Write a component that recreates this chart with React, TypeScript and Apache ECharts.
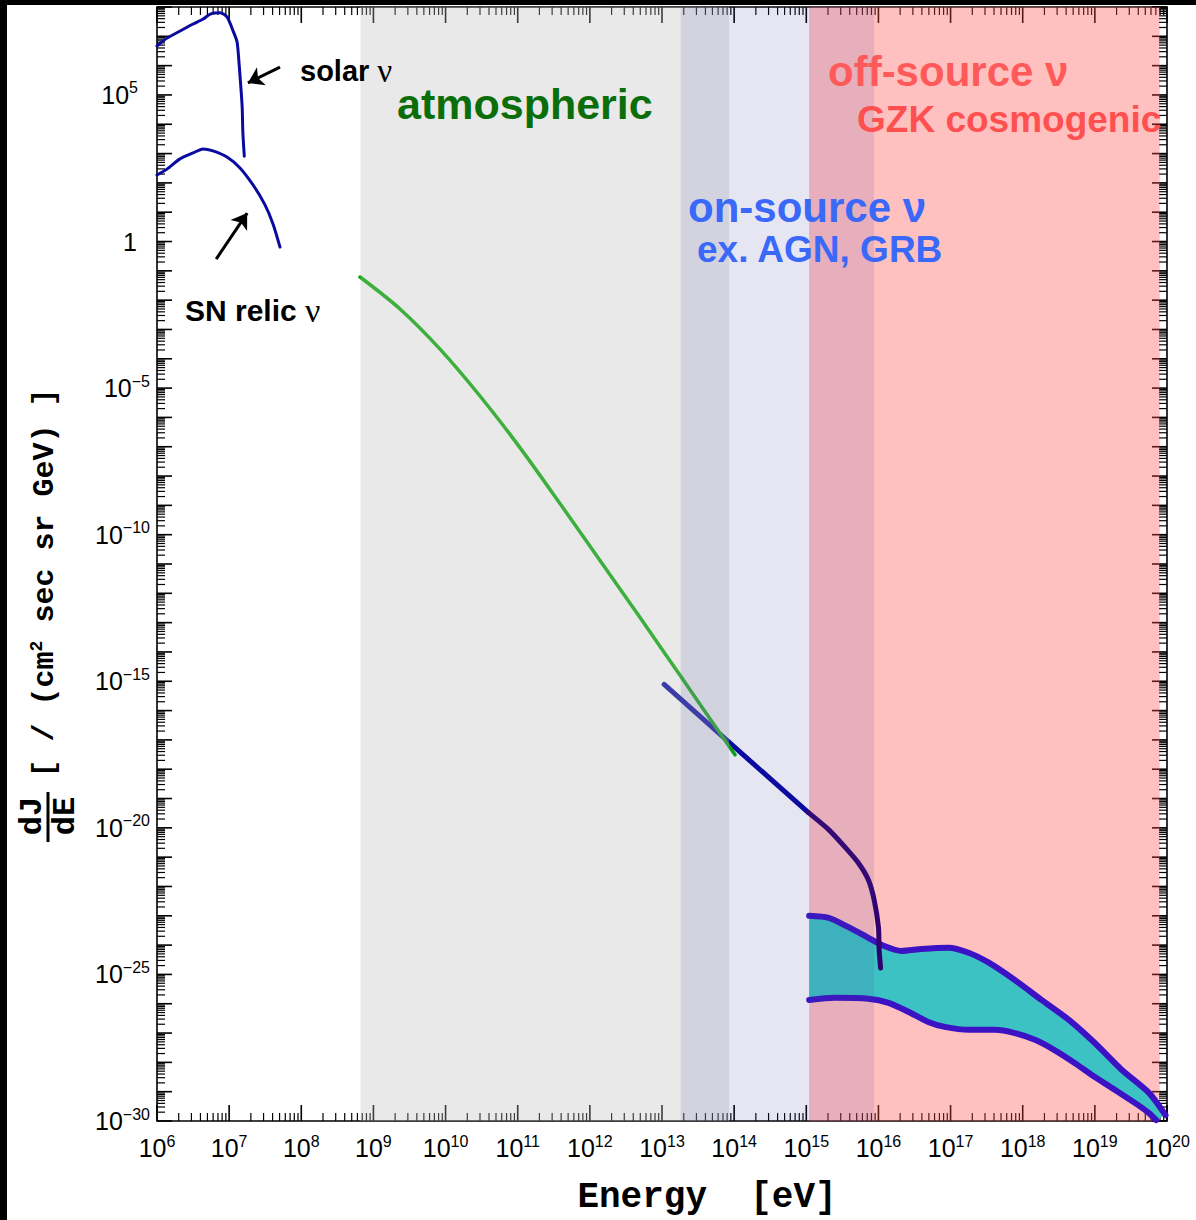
import React, { useEffect, useRef } from "react";
import * as echarts from "echarts";

// Axis ranges, in log10 units (x: log10 E[eV], y: log10 dJ/dE)
const X_MIN = 6;
const X_MAX = 20;
const Y_MIN = -30;
const Y_MAX = 8;
const X_LABEL_STEP = 1;
const Y_LABEL_STEP = 5;
const MINOR_MULTS = [2, 3, 4, 5, 6, 7, 8, 9];

// Curves: [log10 E, log10 dJ/dE]
const solarNu = [
  [6.0, 6.67], [6.14, 6.94], [6.32, 7.18], [6.5, 7.42], [6.64, 7.59], [6.74, 7.76],
  [6.875, 7.8], [6.97, 7.66], [7.06, 7.15], [7.11, 6.81], [7.14, 5.99], [7.18, 4.62],
  [7.19, 3.73], [7.21, 2.91],
];
const snRelicNu = [
  [6.0, 2.27], [6.139, 2.47], [6.319, 2.82], [6.499, 3.02], [6.638, 3.16], [6.776, 3.09],
  [6.97, 2.88], [7.15, 2.51], [7.331, 1.93], [7.497, 1.25], [7.608, 0.6], [7.705, -0.19],
];
const atmosphericNu = [
  [8.814, -1.21], [9.368, -2.3], [9.923, -3.67], [10.477, -5.27], [11.046, -7.08],
  [11.601, -8.99], [12.155, -10.93], [12.71, -12.88], [13.264, -14.85], [14.012, -17.51],
];
const onSourceNu = [[13.03, -15.11], [13.92, -17.06], [15.03, -19.48]];
const onSourceCutoff = [
  [15.03, -19.48], [15.31, -20.06], [15.53, -20.64], [15.72, -21.19], [15.86, -21.77],
  [15.94, -22.45], [16.0, -23.38], [16.01, -24.16], [16.03, -24.78],
];
const gzkUpper = [
  [15.04, -23.0], [15.31, -23.07], [15.58, -23.38], [15.86, -23.75], [16.04, -23.99],
  [16.32, -24.2], [16.6, -24.13], [16.97, -24.09], [17.25, -24.26], [17.53, -24.6],
  [17.89, -25.19], [18.26, -25.87], [18.64, -26.55], [19.0, -27.34], [19.375, -28.26],
  [19.75, -29.04], [19.98, -29.8],
];
const gzkLower = [
  [15.04, -25.87], [15.39, -25.8], [15.86, -25.83], [16.14, -25.97], [16.42, -26.28],
  [16.69, -26.62], [16.92, -26.79], [17.25, -26.89], [17.61, -26.89], [17.89, -27.0],
  [18.17, -27.23], [18.44, -27.58], [18.72, -28.02], [19.0, -28.5], [19.28, -28.94],
  [19.56, -29.39], [19.75, -29.73], [19.85, -29.97],
];

// Energy bands [from, to] in log10 E
const atmosphericBand = [8.82, 13.93];
const onSourceBand = [13.26, 15.94];
const offSourceBand = [15.04, 19.9];

// Arrows [from, to]
const solarArrow = [[7.705, 5.95], [7.26, 5.41]];
const snArrow = [[6.82, -0.6], [7.25, 0.97]];

const SANS = "'Liberation Sans', Arial, Helvetica, sans-serif";
const SERIF = "'Liberation Serif', 'Times New Roman', serif";
const MONO = "'Liberation Mono', 'Courier New', monospace";

function supText(v: number) {
  return v < 0 ? "\u2212" + Math.abs(v) : String(v);
}

function buildTicks(lo: number, hi: number) {
  const out: { v: number; major: boolean }[] = [];
  for (let d = lo; d <= hi; d++) {
    out.push({ v: d, major: true });
    if (d < hi) for (const m of MINOR_MULTS) out.push({ v: d + Math.log10(m), major: false });
  }
  return out;
}

const xTicks = buildTicks(X_MIN, X_MAX);
const yTicks = buildTicks(Y_MIN, Y_MAX);

function bandSeries(name: string, band: number[], color: string, z: number) {
  return {
    name,
    type: "custom",
    z,
    silent: true,
    encode: { x: [0, 1], y: 2 },
    data: [[band[0], band[1], Y_MIN]],
    renderItem: (params: any, api: any) => {
      const p0 = api.coord([api.value(0), Y_MAX]);
      const p1 = api.coord([api.value(1), Y_MIN]);
      return {
        type: "rect",
        shape: { x: p0[0], y: p0[1], width: p1[0] - p0[0], height: p1[1] - p0[1] },
        style: { fill: color },
      };
    },
  };
}

function lineSeries(name: string, data: number[][], color: string, width: number, z: number, extra: any = {}) {
  return {
    name,
    type: "line",
    data,
    z,
    symbol: "none",
    smooth: 0.25,
    silent: true,
    lineStyle: { color, width, cap: "round", join: "round" },
    ...extra,
  };
}

function arrowLine(a: number[][]) {
  return {
    silent: true,
    symbol: ["none", "arrow"],
    symbolSize: 15,
    label: { show: false },
    lineStyle: { color: "#000", width: 3, type: "solid" },
    data: [[{ coord: a[0] }, { coord: a[1] }]],
  };
}

const richLabel = {
  b: { fontFamily: SANS, fontSize: 25, lineHeight: 30, color: "#000" },
  s: { fontFamily: SANS, fontSize: 16, lineHeight: 16, verticalAlign: "top", color: "#000" },
  s5: { fontFamily: SANS, fontSize: 16, lineHeight: 16, verticalAlign: "top", color: "#000", padding: [0, 12, 0, 0] },
  one: { fontFamily: SANS, fontSize: 25, lineHeight: 30, color: "#000", padding: [0, 13, 0, 0] },
};

function nuLabel(x: number, y: number, word: string, size: number) {
  return {
    type: "text", z: 100, x, y,
    style: {
      text: `{t|${word} }{n|\u03bd}`,
      textVerticalAlign: "middle",
      rich: {
        t: { fontFamily: SANS, fontWeight: "bold", fontSize: size, lineHeight: size + 4, fill: "#000" },
        n: { fontFamily: SERIF, fontSize: size + 4, lineHeight: size + 4, fill: "#000" },
      },
    },
  };
}

function buildOption() {
  return {
    animation: false,
    backgroundColor: "#fff",
    grid: { left: 157, top: 7, right: 29, bottom: 99 },
    xAxis: {
      type: "value",
      min: X_MIN,
      max: X_MAX,
      interval: X_LABEL_STEP,
      axisLine: { show: false },
      axisTick: { show: false },
      splitLine: { show: false },
      axisLabel: {
        margin: 12,
        interval: 0,
        formatter: (v: number) => `{b|10}{s|${supText(v)}}`,
        rich: richLabel,
      },
    },
    yAxis: {
      type: "value",
      min: Y_MIN,
      max: Y_MAX,
      interval: Y_LABEL_STEP,
      axisLine: { show: false },
      axisTick: { show: false },
      splitLine: { show: false },
      axisLabel: {
        margin: 7,
        showMaxLabel: false,
        formatter: (v: number) => {
          if (v > 5) return "";
          if (v === 0) return "{one|1}";
          if (v === 5) return "{b|10}{s5|5}";
          return `{b|10}{s|${supText(v)}}`;
        },
        rich: richLabel,
      },
    },
    series: [
      {
        name: "frame",
        type: "custom",
        z: 1,
        silent: true,
        data: [[X_MIN, Y_MIN]],
        renderItem: (params: any, api: any) => {
          const cs = params.coordSys;
          const x0 = cs.x, y0 = cs.y, x1 = cs.x + cs.width, y1 = cs.y + cs.height;
          const ch: any[] = [];
          const st = (major: boolean) => ({ stroke: "#000", lineWidth: major ? 1.6 : 1.2 });
          for (const t of xTicks) {
            const px = api.coord([t.v, Y_MIN])[0];
            const L = t.major ? 16 : 8;
            ch.push({ type: "line", shape: { x1: px, y1: y1, x2: px, y2: y1 - L }, style: st(t.major) });
            ch.push({ type: "line", shape: { x1: px, y1: y0, x2: px, y2: y0 + L }, style: st(t.major) });
          }
          for (const t of yTicks) {
            const py = api.coord([X_MIN, t.v])[1];
            const L = t.major ? 15 : 8;
            ch.push({ type: "line", shape: { x1: x0, y1: py, x2: x0 + L, y2: py }, style: st(t.major) });
            ch.push({ type: "line", shape: { x1: x1, y1: py, x2: x1 - L, y2: py }, style: st(t.major) });
          }
          ch.push({
            type: "rect",
            shape: { x: x0, y: y0, width: x1 - x0, height: y1 - y0 },
            style: { fill: "none", stroke: "#000", lineWidth: 1.6 },
          });
          return { type: "group", children: ch };
        },
      },
      bandSeries("off-source band", offSourceBand, "rgba(255,75,75,0.35)", 2),
      {
        name: "GZK band fill",
        type: "custom",
        z: 3,
        silent: true,
        data: [[X_MIN, Y_MIN]],
        renderItem: (params: any, api: any) => {
          const pts = gzkUpper.map((p) => api.coord(p));
          const low = gzkLower.map((p) => api.coord(p)).reverse();
          return { type: "polygon", shape: { points: pts.concat(low) }, style: { fill: "#3cc2c2" } };
        },
      },
      lineSeries("GZK upper", gzkUpper, "#3b12c4", 6, 4),
      lineSeries("GZK lower", gzkLower, "#3b12c4", 6, 4),
      lineSeries("solar", solarNu, "#0a0aa0", 3, 4, { markLine: arrowLine(solarArrow) }),
      lineSeries("SN relic", snRelicNu, "#0a0aa0", 3, 4, { markLine: arrowLine(snArrow) }),
      lineSeries("on-source", onSourceNu, "#0000a0", 5, 4, { smooth: false }),
      lineSeries("on-source cutoff", onSourceCutoff, "#300070", 5, 4),
      lineSeries("atmospheric", atmosphericNu, "#00aa00", 3.5, 5, { smooth: 0.3 }),
      bandSeries("atmospheric band", atmosphericBand, "rgba(187,187,187,0.32)", 6),
      bandSeries("on-source band", onSourceBand, "rgba(71,71,160,0.136)", 6),
    ],
    graphic: [
      { type: "rect", z: 100, shape: { x: 0, y: 0, width: 1196, height: 5 }, style: { fill: "#000" } },
      { type: "rect", z: 100, shape: { x: 0, y: 0, width: 7, height: 1220 }, style: { fill: "#000" } },
      nuLabel(300, 71, "solar", 29),
      nuLabel(185, 310, "SN relic", 30),
      {
        type: "text", z: 100, x: 397, y: 104,
        style: { text: "atmospheric", fill: "#0b6e0b", fontFamily: SANS, fontWeight: "bold", fontSize: 43, textVerticalAlign: "middle" },
      },
      {
        type: "text", z: 100, x: 688, y: 207,
        style: { text: "on-source \u03bd", fill: "#3a68f8", fontFamily: SANS, fontWeight: "bold", fontSize: 42, textVerticalAlign: "middle" },
      },
      {
        type: "text", z: 100, x: 697, y: 249,
        style: { text: "ex. AGN, GRB", fill: "#3a68f8", fontFamily: SANS, fontWeight: "bold", fontSize: 37, textVerticalAlign: "middle" },
      },
      {
        type: "text", z: 100, x: 828, y: 71,
        style: { text: "off-source \u03bd", fill: "#ff5a5a", fontFamily: SANS, fontWeight: "bold", fontSize: 42, textVerticalAlign: "middle" },
      },
      {
        type: "text", z: 100, x: 857, y: 119,
        style: { text: "GZK cosmogenic", fill: "#ff5050", fontFamily: SANS, fontWeight: "bold", fontSize: 37, textVerticalAlign: "middle" },
      },
      {
        type: "text", z: 100, x: 707, y: 1197,
        style: { text: "Energy  [eV]", fill: "#000", fontFamily: MONO, fontWeight: "bold", fontSize: 36, textAlign: "center", textVerticalAlign: "middle" },
      },
      {
        type: "text", z: 100, x: 45, y: 583, rotation: Math.PI / 2,
        style: {
          text: "{a|[ / (cm}{s|2}{a| sec sr GeV) ]}",
          textAlign: "center",
          textVerticalAlign: "middle",
          fill: "#000",
          rich: {
            a: { fontFamily: MONO, fontWeight: "bold", fontSize: 30, lineHeight: 34, fill: "#000" },
            s: { fontFamily: MONO, fontWeight: "bold", fontSize: 18, lineHeight: 18, verticalAlign: "top", fill: "#000" },
          },
        },
      },
      {
        type: "text", z: 100, x: 32, y: 816, rotation: Math.PI / 2,
        style: { text: "dJ", fill: "#000", fontFamily: MONO, fontWeight: "bold", fontSize: 32, textAlign: "center", textVerticalAlign: "middle" },
      },
      {
        type: "line", z: 100, shape: { x1: 48, y1: 792, x2: 48, y2: 842 }, style: { stroke: "#000", lineWidth: 3 },
      },
      {
        type: "text", z: 100, x: 65, y: 816, rotation: Math.PI / 2,
        style: { text: "dE", fill: "#000", fontFamily: MONO, fontWeight: "bold", fontSize: 32, textAlign: "center", textVerticalAlign: "middle" },
      },
    ],
  };
}

export default function App() {
  const ref = useRef<HTMLDivElement>(null);
  useEffect(() => {
    document.body.style.margin = "0";
    const chart = echarts.init(ref.current as HTMLDivElement, null, { renderer: "svg" });
    chart.setOption(buildOption() as any);
    return () => chart.dispose();
  }, []);
  return <div ref={ref} style={{ width: 1196, height: 1220 }} />;
}
